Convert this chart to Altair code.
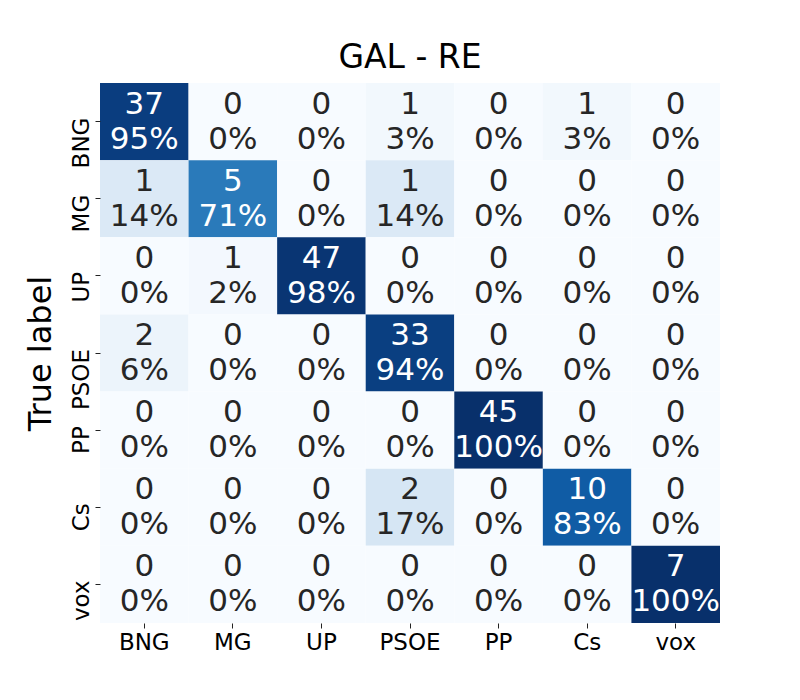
import altair as alt
import pandas as pd

labels = ["BNG", "MG", "UP", "PSOE", "PP", "Cs", "vox"]
counts = [
    [37, 0, 0, 1, 0, 1, 0],
    [1, 5, 0, 1, 0, 0, 0],
    [0, 1, 47, 0, 0, 0, 0],
    [2, 0, 0, 33, 0, 0, 0],
    [0, 0, 0, 0, 45, 0, 0],
    [0, 0, 0, 2, 0, 10, 0],
    [0, 0, 0, 0, 0, 0, 7],
]

rows = []
for i, t in enumerate(labels):
    tot = sum(counts[i])
    for j, p in enumerate(labels):
        c = counts[i][j]
        pct = c / tot
        rows.append({"true": t, "pred": p, "count": c, "pct": pct,
                     "cnt_txt": f"{c}", "pct_txt": f"{round(pct*100):.0f}%"})
df = pd.DataFrame(rows)

blues = ["#f7fbff", "#deebf7", "#c6dbef", "#9ecae1", "#6baed6",
         "#4292c6", "#2171b5", "#08519c", "#08306b"]
dom = [i / 8 for i in range(9)]

base = alt.Chart(df).encode(
    x=alt.X("pred:N", sort=labels, title=None,
            axis=alt.Axis(labelAngle=0, labelFontSize=23, labelFont="DejaVu Sans",
                          labelColor="#000000", tickSize=5, tickColor="#222222",
                          domain=False, labelPadding=3)),
    y=alt.Y("true:N", sort=labels, title="True label",
            axis=alt.Axis(labelAngle=270, labelAlign="right", labelBaseline="alphabetic",
                          labelOffset=-4,
                          labelFontSize=23, labelFont="DejaVu Sans", labelColor="#000000",
                          tickSize=5, tickColor="#222222", domain=False, labelPadding=7,
                          titleFontSize=32, titleFont="DejaVu Sans", titleFontWeight="normal",
                          titleColor="#000000", titleAngle=270, titleX=-60, titleY=270,
                          titleAlign="center", titleBaseline="middle")),
)

rect = base.mark_rect().encode(
    color=alt.Color("pct:Q", scale=alt.Scale(domain=dom, range=blues), legend=None)
)

txt_color = alt.condition(alt.datum.pct > 0.5, alt.value("#ffffff"), alt.value("#262626"))

text1 = base.mark_text(font="DejaVu Sans", fontSize=31, baseline="alphabetic", dy=-8).encode(
    text="cnt_txt:N", color=txt_color)
text2 = base.mark_text(font="DejaVu Sans", fontSize=31, baseline="alphabetic", dy=27).encode(
    text="pct_txt:N", color=txt_color)

chart = (rect + text1 + text2).properties(
    width=620, height=540,
    title=alt.Title("GAL - RE", fontSize=33, font="DejaVu Sans", fontWeight="normal",
                    color="#000000", offset=8),
    autosize=alt.AutoSizeParams(type="none"),
    padding={"left": 92, "top": 75, "right": 64, "bottom": 69},
).configure_view(stroke=None).configure_scale(bandPaddingInner=0, bandPaddingOuter=0)

chart.save("out.html", embed_options={"renderer": "svg", "actions": False})
